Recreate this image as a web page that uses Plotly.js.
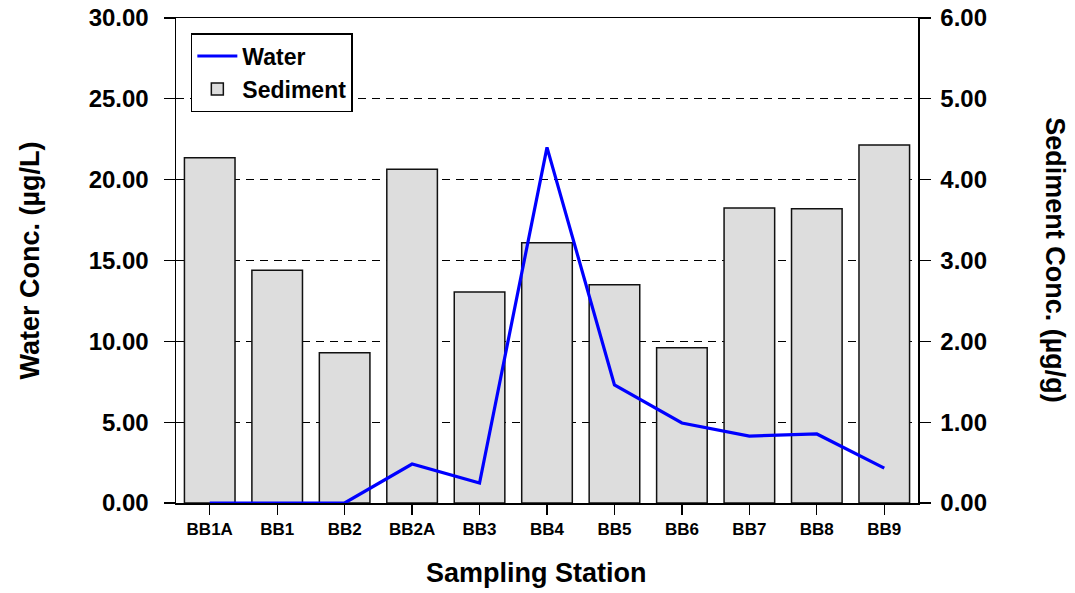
<!DOCTYPE html>
<html>
<head>
<meta charset="utf-8">
<script src="https://cdn.plot.ly/plotly-3.0.1.min.js"></script>
<style>html,body{margin:0;padding:0;background:#fff;}#chart{width:1075px;height:593px;}</style>
</head>
<body>
<div id="chart"></div>
<script>
const stations = ["BB1A","BB1","BB2","BB2A","BB3","BB4","BB5","BB6","BB7","BB8","BB9"];
const waterConc = [0, 0, 0, 2.41, 1.24, 22.0, 7.3, 4.95, 4.14, 4.27, 2.16];
const sedimentConc = [4.27, 2.88, 1.86, 4.13, 2.61, 3.22, 2.70, 1.92, 3.65, 3.64, 4.43];
const waterTicks = [0, 5, 10, 15, 20, 25, 30];
const sedimentTicks = [0, 1, 2, 3, 4, 5, 6];

const FONT = "Arial, 'Liberation Sans', sans-serif";

const data = [
  {
    type: "scatter", mode: "lines", name: "Water",
    x: stations, y: waterConc, yaxis: "y2",
    line: {color: "#0000ff", width: 3.2}
  },
  {
    type: "bar", name: "Sediment",
    x: stations, y: sedimentConc, yaxis: "y",
    width: 0.75,
    marker: {color: "#dddddd", line: {color: "#111111", width: 1.5}}
  }
];

const layout = {
  width: 1075, height: 593,
  margin: {l: 176, r: 157, t: 18, b: 90},
  paper_bgcolor: "#ffffff", plot_bgcolor: "#ffffff",
  font: {family: FONT, color: "#000", size: 20},
  showlegend: true,
  legend: {
    x: 0.02, y: 0.969, xanchor: "left", yanchor: "top",
    bgcolor: "#ffffff", bordercolor: "#000", borderwidth: 1.5,
    font: {family: FONT, size: 23, weight: "bold", color: "#000"},
    traceorder: "normal", itemwidth: 40, tracegroupgap: 4
  },
  xaxis: {
    type: "category", range: [-0.5, 10.5],
    showline: true, linecolor: "#000", linewidth: 1.5, mirror: true,
    ticks: "outside", ticklen: 10, tickwidth: 1.2, tickcolor: "#000",
    tickfont: {family: FONT, size: 17, weight: "bold", color: "#000"},
    showgrid: false, zeroline: false
  },
  yaxis: {
    side: "right", range: [0, 6], tickvals: sedimentTicks,
    ticktext: sedimentTicks.map(v => v.toFixed(2)),
    showline: true, linecolor: "#000", linewidth: 1.5,
    ticks: "outside", ticklen: 11, tickwidth: 1.2, tickcolor: "#000",
    tickfont: {family: FONT, size: 24, weight: "bold", color: "#000"},
    showgrid: true, gridcolor: "#000", gridwidth: 1.3, griddash: "8px,6px",
    zeroline: false, ticklabelstandoff: 5
  },
  yaxis2: {
    overlaying: "y", side: "left", range: [0, 30], tickvals: waterTicks,
    ticktext: waterTicks.map(v => v.toFixed(2)),
    showline: true, linecolor: "#000", linewidth: 1.5,
    ticks: "outside", ticklen: 11, tickwidth: 1.2, tickcolor: "#000",
    tickfont: {family: FONT, size: 24, weight: "bold", color: "#000"},
    showgrid: false, zeroline: false, ticklabelstandoff: 10
  },
  annotations: [
    {text: "Water Conc. (µg/L)", xref: "paper", yref: "paper", x: -0.198, y: 0.5,
     xanchor: "center", yanchor: "middle", textangle: -90, showarrow: false,
     font: {family: FONT, size: 27, weight: "bold", color: "#000"}},
    {text: "Sediment Conc. (µg/g)", xref: "paper", yref: "paper", x: 1.185, y: 0.5,
     xanchor: "center", yanchor: "middle", textangle: 90, showarrow: false,
     font: {family: FONT, size: 27, weight: "bold", color: "#000"}},
    {text: "Sampling Station", xref: "paper", yref: "paper", x: 0.486, y: -0.145,
     xanchor: "center", yanchor: "middle", showarrow: false,
     font: {family: FONT, size: 27, weight: "bold", color: "#000"}}
  ]
};

Plotly.newPlot("chart", data, layout, {displayModeBar: false, staticPlot: true});
</script>
</body>
</html>
